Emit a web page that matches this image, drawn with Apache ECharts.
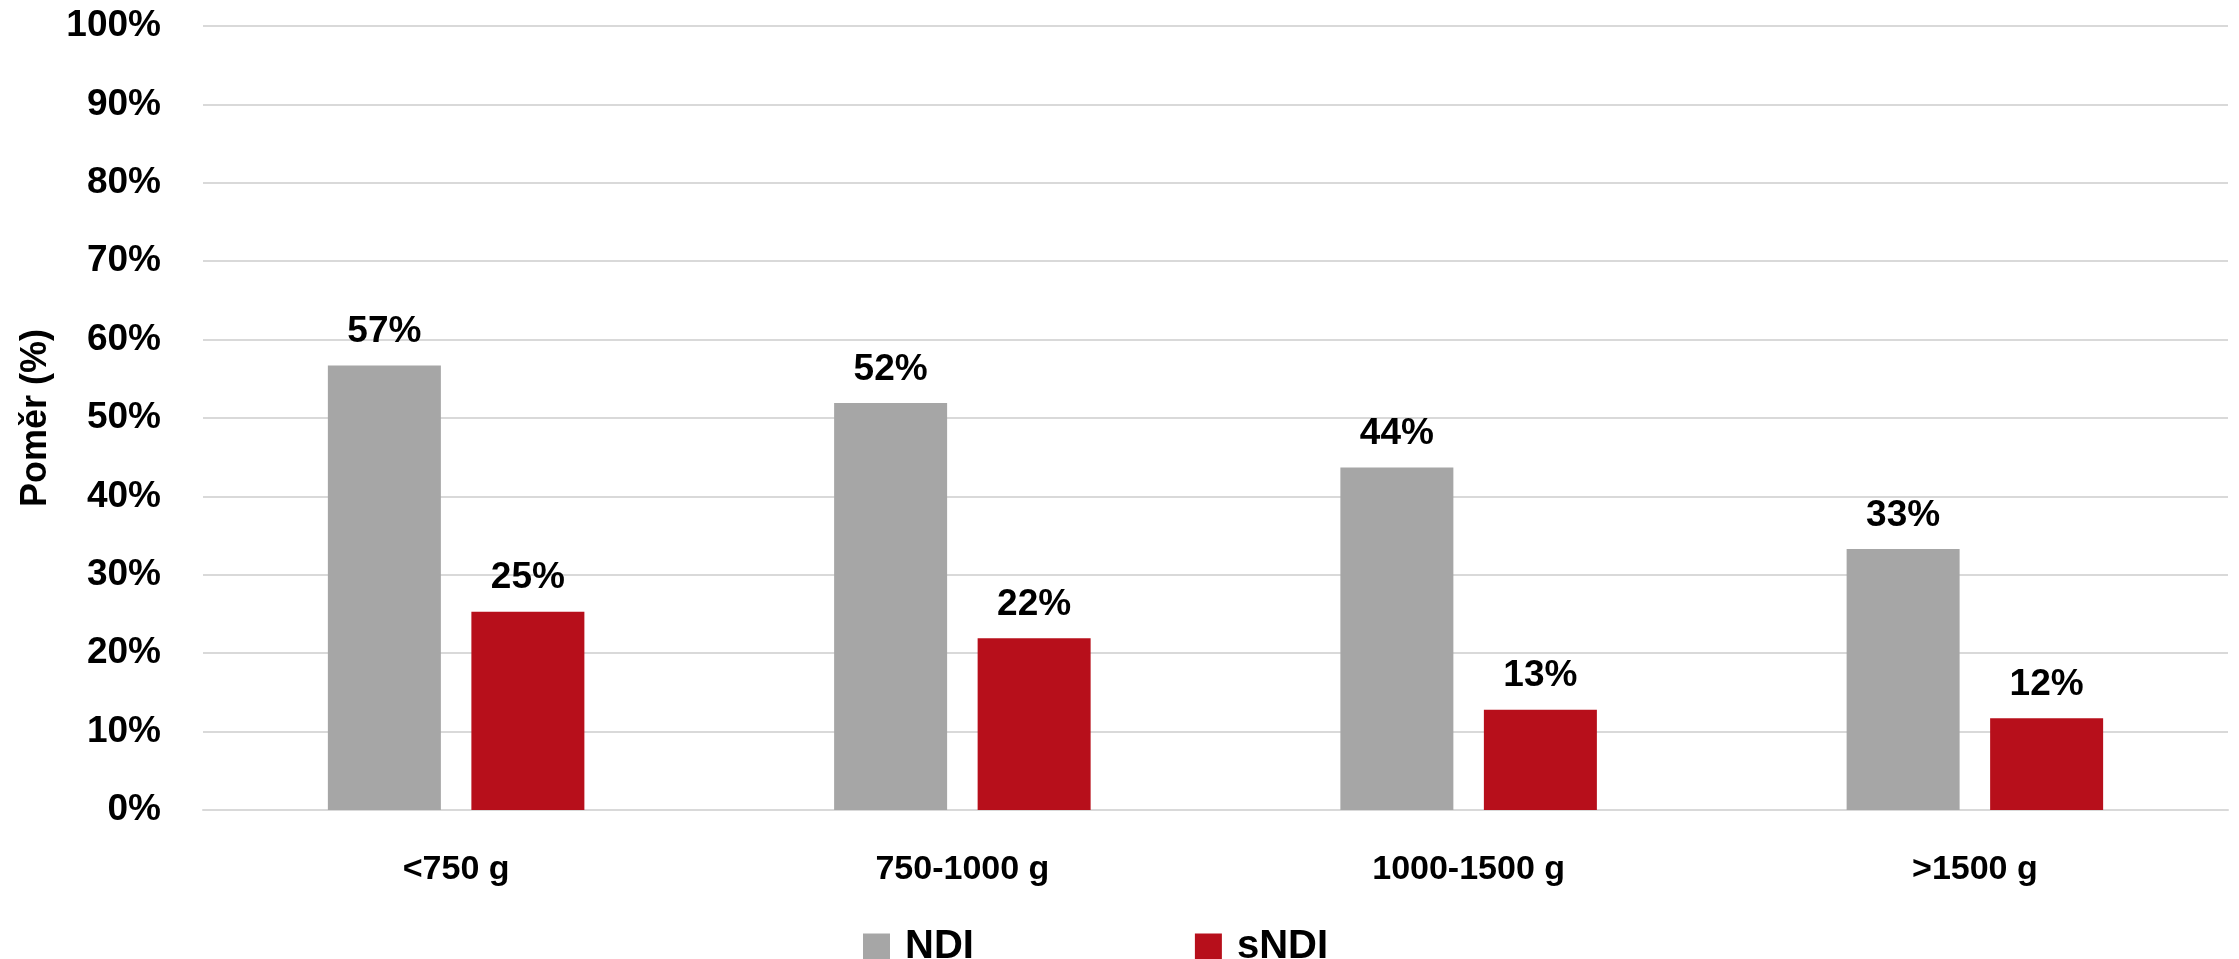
<!DOCTYPE html>
<html>
<head>
<meta charset="utf-8">
<script src="https://cdn.jsdelivr.net/npm/echarts@6/dist/echarts.min.js"></script>
<style>
  html, body { margin: 0; padding: 0; background: #fff; }
  #graph1 { width: 2239px; height: 959px; }
</style>
</head>
<body>
<div id="graph1"></div>
<script>
// data
var categories = ['<750 g', '750-1000 g', '1000-1500 g', '>1500 g'];
var dataNDI = [56.7, 51.9, 43.7, 33.3];
var dataSNDI = [25.3, 21.9, 12.8, 11.7];
var seriesNames = ['NDI', 'sNDI'];

var font = '"Liberation Sans", Arial, sans-serif';

var option = {
    animation: false,
    backgroundColor: '#fff',
    grid: {
        left: 203,
        right: 11,
        top: 26,
        bottom: 149,
        outerBoundsMode: 'none'
    },
    legend: {
        data: seriesNames,
        left: 858,
        top: 922,
        itemWidth: 27,
        itemHeight: 27,
        itemGap: 221,
        icon: 'rect',
        textStyle: {
            fontFamily: font,
            fontWeight: 'bold',
            fontSize: 40,
            color: '#000',
            padding: [0, 0, 0, 10]
        }
    },
    xAxis: {
        type: 'category',
        data: categories,
        axisLine: { lineStyle: { color: '#d9d9d9', width: 2 } },
        axisTick: { show: false },
        axisLabel: {
            margin: 43,
            fontFamily: font,
            fontWeight: 'bold',
            fontSize: 34,
            color: '#000'
        }
    },
    yAxis: {
        type: 'value',
        min: 0,
        max: 100,
        interval: 10,
        name: 'Poměr (%)',
        nameLocation: 'middle',
        nameRotate: 90,
        nameGap: 167,
        nameTextStyle: {
            fontFamily: font,
            fontWeight: 'bold',
            fontSize: 36,
            color: '#000',
            verticalAlign: 'middle'
        },
        axisLine: { show: false },
        axisTick: { show: false },
        splitLine: { lineStyle: { color: '#d9d9d9', width: 2 } },
        axisLabel: {
            margin: 42,
            formatter: '{value}%',
            fontFamily: font,
            fontWeight: 'bold',
            fontSize: 37,
            color: '#000'
        }
    },
    series: [
        {
            name: 'NDI',
            type: 'bar',
            data: dataNDI,
            barWidth: 113,
            barGap: '27%',
            itemStyle: { color: '#a6a6a6' },
            label: {
                show: true,
                position: 'top',
                distance: 15,
                formatter: function (p) { return Math.round(p.value) + '%'; },
                fontFamily: font,
                fontWeight: 'bold',
                fontSize: 37,
                color: '#000'
            }
        },
        {
            name: 'sNDI',
            type: 'bar',
            data: dataSNDI,
            barWidth: 113,
            itemStyle: { color: '#b70f1b' },
            label: {
                show: true,
                position: 'top',
                distance: 15,
                formatter: function (p) { return Math.round(p.value) + '%'; },
                fontFamily: font,
                fontWeight: 'bold',
                fontSize: 37,
                color: '#000'
            }
        }
    ]
};

var myChart = echarts.init(document.getElementById('graph1'));
myChart.setOption(option);
</script>
</body>
</html>
